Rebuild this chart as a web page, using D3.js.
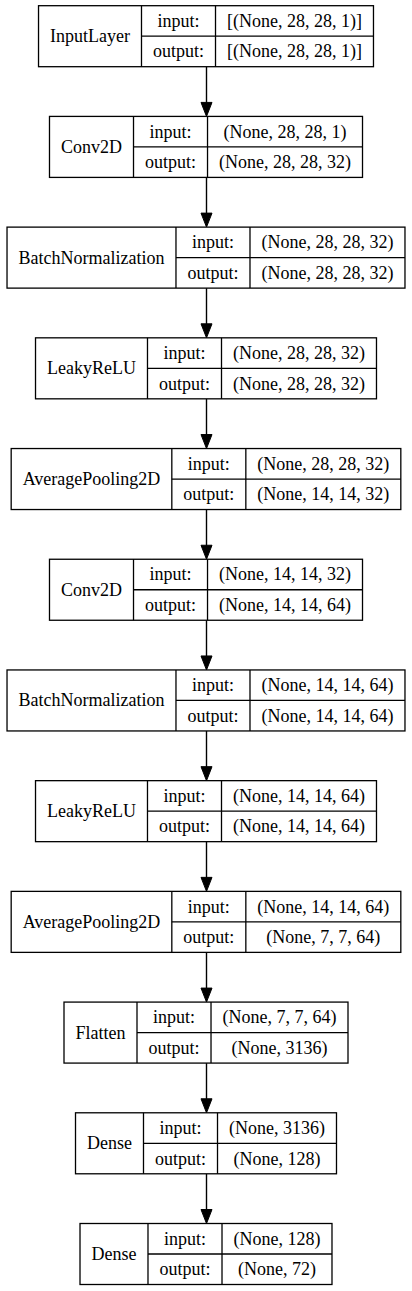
<!DOCTYPE html>
<html>
<head>
<meta charset="utf-8">
<script src="https://cdn.jsdelivr.net/npm/d3@7"></script>
<style>
  body { margin: 0; background: #fff; }
  svg { display: block; }
</style>
</head>
<body>
<div id="graph"></div>
<script>
const width = 412, height = 1291;

// layer table
let layerNames = ["InputLayer", "Conv2D", "BatchNormalization", "LeakyReLU", "AveragePooling2D",
  "Conv2D", "BatchNormalization", "LeakyReLU", "AveragePooling2D", "Flatten", "Dense", "Dense"];
let inputShapes = ["[(None, 28, 28, 1)]", "(None, 28, 28, 1)", "(None, 28, 28, 32)", "(None, 28, 28, 32)",
  "(None, 28, 28, 32)", "(None, 14, 14, 32)", "(None, 14, 14, 64)", "(None, 14, 14, 64)",
  "(None, 14, 14, 64)", "(None, 7, 7, 64)", "(None, 3136)", "(None, 128)"];
let outputShapes = ["[(None, 28, 28, 1)]", "(None, 28, 28, 32)", "(None, 28, 28, 32)", "(None, 28, 28, 32)",
  "(None, 14, 14, 32)", "(None, 14, 14, 64)", "(None, 14, 14, 64)", "(None, 14, 14, 64)",
  "(None, 7, 7, 64)", "(None, 3136)", "(None, 128)", "(None, 72)"];
let portLabels = ["input:", "output:"];

const boxH = 61, pad = 23, centerX = 206, fontSize = 18;

let svg = d3.select("#graph")
  .append("svg")
  .attr("width", width)
  .attr("height", height)
  .style("font-family", "'Liberation Serif', 'Times New Roman', serif")
  .style("font-size", fontSize + "px");

let y = d3.scaleLinear()
  .domain([0, layerNames.length - 1])
  .range([5.7, 1223.5]);

// measure text like graphviz sizes its table cells
let probe = svg.append("text").attr("visibility", "hidden");
function textW(s) { probe.text(s); return probe.node().getComputedTextLength(); }
let midW = d3.max(portLabels, textW) + pad;

let layers = layerNames.map(function(name, i) {
  let w0 = textW(name) + pad;
  let w2 = Math.max(textW(inputShapes[i]), textW(outputShapes[i])) + pad;
  let total = w0 + midW + w2;
  let x0 = centerX - total / 2;
  return {name: name, inp: inputShapes[i], out: outputShapes[i], top: y(i),
    x0: x0, x1: x0 + w0, x2: x0 + w0 + midW, x3: x0 + total};
});
probe.remove();

// edges
let edges = svg.append("g");
layers.slice(1).forEach(function(d, i) {
  let prev = layers[i];
  edges.append("line")
    .attr("x1", centerX + 0.5).attr("x2", centerX + 0.5)
    .attr("y1", prev.top + boxH).attr("y2", d.top - 13)
    .attr("stroke", "#000").attr("stroke-width", 1.4);
  edges.append("path")
    .attr("d", d3.line()([[centerX + 0.5 - 5.5, d.top - 14], [centerX + 0.5 + 5.5, d.top - 14], [centerX + 0.5, d.top]]) + "Z")
    .attr("fill", "#000").attr("stroke", "#000").attr("stroke-width", 1);
});

let node = svg.selectAll("g.layer").data(layers)
  .enter().append("g").attr("class", "layer");

node.append("rect")
  .attr("x", d => d.x0).attr("y", d => d.top)
  .attr("width", d => d.x3 - d.x0).attr("height", boxH)
  .attr("fill", "#fff").attr("stroke", "#000").attr("stroke-width", 1.3);

node.append("line")
  .attr("x1", d => d.x1).attr("x2", d => d.x1)
  .attr("y1", d => d.top).attr("y2", d => d.top + boxH)
  .attr("stroke", "#000").attr("stroke-width", 1.3);
node.append("line")
  .attr("x1", d => d.x2).attr("x2", d => d.x2)
  .attr("y1", d => d.top).attr("y2", d => d.top + boxH)
  .attr("stroke", "#000").attr("stroke-width", 1.3);
node.append("line")
  .attr("x1", d => d.x1).attr("x2", d => d.x3)
  .attr("y1", d => d.top + boxH / 2).attr("y2", d => d.top + boxH / 2)
  .attr("stroke", "#000").attr("stroke-width", 1.3);

node.append("text")
  .attr("x", d => (d.x0 + d.x1) / 2).attr("y", d => d.top + boxH / 2 + 6)
  .attr("text-anchor", "middle").text(d => d.name);
node.append("text")
  .attr("x", d => (d.x1 + d.x2) / 2).attr("y", d => d.top + boxH / 4 + 6)
  .attr("text-anchor", "middle").text(portLabels[0]);
node.append("text")
  .attr("x", d => (d.x1 + d.x2) / 2).attr("y", d => d.top + boxH * 3 / 4 + 6)
  .attr("text-anchor", "middle").text(portLabels[1]);
node.append("text")
  .attr("x", d => (d.x2 + d.x3) / 2).attr("y", d => d.top + boxH / 4 + 6)
  .attr("text-anchor", "middle").text(d => d.inp);
node.append("text")
  .attr("x", d => (d.x2 + d.x3) / 2).attr("y", d => d.top + boxH * 3 / 4 + 6)
  .attr("text-anchor", "middle").text(d => d.out);
</script>
</body>
</html>
